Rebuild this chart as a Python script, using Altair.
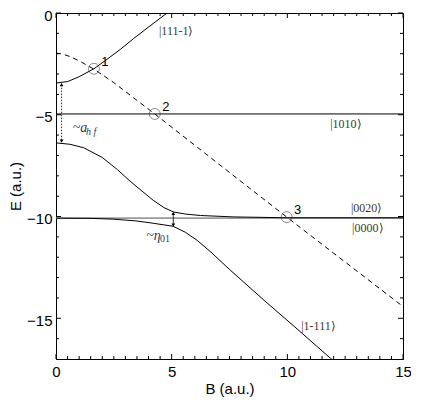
import altair as alt
import pandas as pd

# ---- data ----
B_111m1 = [0.0, 0.5, 1.0, 1.64, 2.2, 2.8, 3.36, 4.0, 4.8, 5.2]
E_111m1 = [-3.44, -3.37, -3.13, -2.74, -2.28, -1.77, -1.25, -0.69, 0.0, 0.35]

B_dash = [0.0, 0.3, 0.6, 1.0, 1.64, 2.5, 3.3, 4.27, 6.0, 8.0, 10.0, 12.0, 15.0]
E_dash = [-1.97, -2.02, -2.14, -2.35, -2.76, -3.42, -4.12, -4.96, -6.5, -8.28, -10.05, -11.8, -14.42]

B_1010 = [0.0, 15.0]
E_1010 = [-4.96, -4.96]

B_0020 = [0.0, 0.6, 1.2, 2.0, 2.65, 3.2, 3.8, 4.2, 4.66, 5.09, 5.6, 6.25, 7.69, 10.0, 15.0]
E_0020 = [-6.38, -6.45, -6.62, -7.1, -7.69, -8.26, -8.83, -9.2, -9.56, -9.78, -9.88, -9.95, -10.02, -10.06, -10.06]

B_0000 = [0.0, 15.0]
E_0000 = [-10.08, -10.08]

B_1m111 = [0.0, 1.5, 2.5, 3.5, 4.2, 5.07, 5.6, 6.1, 6.7, 7.5, 9.0, 10.5, 11.87, 12.3]
E_1m111 = [-10.08, -10.09, -10.13, -10.22, -10.33, -10.48, -10.78, -11.17, -11.75, -12.6, -14.12, -15.6, -16.97, -17.4]

CROSS_B = [1.64, 4.27, 9.97]
CROSS_E = [-2.74, -4.96, -10.03]
CROSS_LABEL = ["1", "2", "3"]

STATE_LABEL = ["|111-1⟩", "|1010⟩", "|0020⟩", "|0000⟩", "|1-111⟩"]
STATE_B = [4.45, 11.85, 12.75, 12.8, 10.6]
STATE_E = [-0.9, -5.43, -9.56, -10.56, -15.37]

HF_ARROW_B = [0.24]
HF_ARROW_E1 = [-3.52]
HF_ARROW_E2 = [-6.3]
ETA_ARROW_B = [5.07]
ETA_ARROW_E1 = [-9.84]
ETA_ARROW_E2 = [-10.42]

X_MAJOR = [0, 5, 10, 15]
X_MINOR = [0.5, 1, 1.5, 2, 2.5, 3, 3.5, 4, 4.5, 5.5, 6, 6.5, 7, 7.5, 8, 8.5, 9, 9.5,
           10.5, 11, 11.5, 12, 12.5, 13, 13.5, 14, 14.5]
Y_MAJOR = [0, -5, -10, -15]
Y_MINOR = [-1, -2, -3, -4, -6, -7, -8, -9, -11, -12, -13, -14, -16]

W, H = 347, 346

xs = alt.Scale(domain=[0, 15], nice=False, zero=False)
ys = alt.Scale(domain=[-17, 0], nice=False, zero=False)

SANS = "Liberation Sans"
SERIF = "Liberation Serif"

X_AXIS = alt.Axis(values=X_MAJOR, ticks=False, grid=False, title="B (a.u.)",
                  labelFont=SANS, labelFontSize=15, titleFont=SANS, titleFontSize=15,
                  titleFontWeight="normal", labelColor="black", titleColor="black",
                  domainColor="black", labelPadding=5, titlePadding=2, labelFlush=False)
Y_AXIS = alt.Axis(values=Y_MAJOR, ticks=False, grid=False, title="E (a.u.)",
                  labelFont=SANS, labelFontSize=15, titleFont=SANS, titleFontSize=15,
                  titleFontWeight="normal", labelColor="black", titleColor="black",
                  domainColor="black", labelPadding=4, titlePadding=3, labelFlush=False,
                  labelOffset=2)

X = alt.X("B:Q", scale=xs, axis=X_AXIS)
Y = alt.Y("E:Q", scale=ys, axis=Y_AXIS)


def df(b, e):
    return pd.DataFrame({"B": b, "E": e})


base = alt.Chart(df(B_0000, E_0000)).mark_line(color="#9a9a9a", strokeWidth=1.8, clip=True).encode(x=X, y=Y)


def solid(b, e):
    return alt.Chart(df(b, e)).mark_line(color="black", strokeWidth=1.0, clip=True).encode(x=X, y=Y)


dashed = alt.Chart(df(B_dash, E_dash)).mark_line(color="black", strokeWidth=1.0, strokeDash=[5, 4],
                                                 clip=True).encode(x=X, y=Y)

circles = alt.Chart(df(CROSS_B, CROSS_E)).mark_point(shape="circle", size=120, filled=False, color="#333",
                                                     strokeWidth=0.8).encode(x=X, y=Y)
cross_df = df(CROSS_B, CROSS_E)
cross_df["t"] = CROSS_LABEL
cross_txt = alt.Chart(cross_df).mark_text(font=SANS, fontSize=13, dx=11, dy=-7, color="black").encode(
    x=X, y=Y, text="t:N")

st_df = df(STATE_B, STATE_E)
st_df["t"] = STATE_LABEL
state_txt = alt.Chart(st_df).mark_text(font=SERIF, fontSize=12, align="left", baseline="middle",
                                       color="#3a3a2a").encode(x=X, y=Y, text="t:N")

# arrows
hf_df = pd.DataFrame({"B": HF_ARROW_B, "E": HF_ARROW_E1, "E2": HF_ARROW_E2})
hf_rule = alt.Chart(hf_df).mark_rule(color="black", strokeWidth=0.8, strokeDash=[1.5, 1.5]).encode(
    x=X, y=Y, y2="E2:Q")
eta_df = pd.DataFrame({"B": ETA_ARROW_B, "E": ETA_ARROW_E1, "E2": ETA_ARROW_E2})
eta_rule = alt.Chart(eta_df).mark_rule(color="black", strokeWidth=0.8).encode(x=X, y=Y, y2="E2:Q")

heads_up = alt.Chart(df(HF_ARROW_B + ETA_ARROW_B, HF_ARROW_E1 + ETA_ARROW_E1)).mark_point(
    shape="triangle-up", size=14, filled=True, color="black", opacity=1).encode(x=X, y=Y)
heads_dn = alt.Chart(df(HF_ARROW_B + ETA_ARROW_B, HF_ARROW_E2 + ETA_ARROW_E2)).mark_point(
    shape="triangle-down", size=14, filled=True, color="black", opacity=1).encode(x=X, y=Y)

# arrow annotations
ANN_COLOR = "#2e3d5c"
ahf_a = alt.Chart(df([0.72], [-5.63])).mark_text(text="~a", font=SERIF, fontStyle="italic", fontSize=14,
                                                 align="left", baseline="middle", color=ANN_COLOR).encode(x=X, y=Y)
ahf_s = alt.Chart(df([1.3], [-5.85])).mark_text(text="h f", font=SERIF, fontStyle="italic", fontSize=10,
                                                align="left", baseline="middle", color=ANN_COLOR).encode(x=X, y=Y)
eta_a = alt.Chart(df([3.9], [-10.95])).mark_text(text="~η", font=SERIF, fontStyle="italic", fontSize=14,
                                                 align="left", baseline="middle", color=ANN_COLOR).encode(x=X, y=Y)
eta_s = alt.Chart(df([4.5], [-11.12])).mark_text(text="01", font=SERIF, fontSize=10,
                                                 align="left", baseline="middle", color=ANN_COLOR).encode(x=X, y=Y)

# inward tick marks on all four sides
xmaj = pd.DataFrame({"B": X_MAJOR})
xmin = pd.DataFrame({"B": X_MINOR})
ymaj = pd.DataFrame({"E": Y_MAJOR})
ymin = pd.DataFrame({"E": Y_MINOR})


def xticks(d, L):
    bot = alt.Chart(d).mark_rule(color="black", strokeWidth=1).encode(x=X, y=alt.value(H), y2=alt.value(H - L))
    top = alt.Chart(d).mark_rule(color="black", strokeWidth=1).encode(x=X, y=alt.value(0), y2=alt.value(L))
    return bot + top


def yticks(d, L):
    lef = alt.Chart(d).mark_rule(color="black", strokeWidth=1).encode(y=Y, x=alt.value(0), x2=alt.value(L))
    rig = alt.Chart(d).mark_rule(color="black", strokeWidth=1).encode(y=Y, x=alt.value(W), x2=alt.value(W - L))
    return lef + rig


chart = alt.layer(
    base,
    solid(B_1010, E_1010),
    solid(B_0020, E_0020),
    solid(B_1m111, E_1m111),
    solid(B_111m1, E_111m1),
    dashed,
    circles, cross_txt, state_txt,
    hf_rule, eta_rule, heads_up, heads_dn,
    ahf_a, ahf_s, eta_a, eta_s,
    xticks(xmaj, 5), xticks(xmin, 3), yticks(ymaj, 5), yticks(ymin, 3),
).properties(
    width=W, height=H,
    autosize=alt.AutoSizeParams(type="none"),
    padding={"left": 48, "top": 5, "right": 8, "bottom": 40},
).configure_view(stroke="black", strokeWidth=1)

chart.save("out.html", embed_options={"renderer": "svg", "actions": False})
